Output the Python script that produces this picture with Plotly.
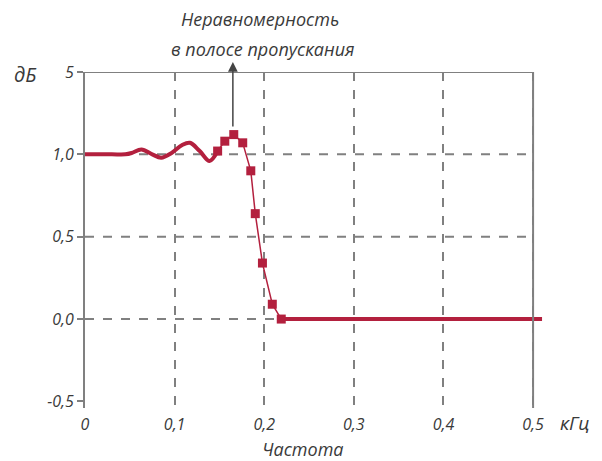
import plotly.graph_objects as go

# Data
ripple_x = [0.0, 0.03, 0.045, 0.052, 0.063, 0.075, 0.085, 0.097, 0.108, 0.117, 0.128, 0.139, 0.148]
ripple_y = [1.0, 1.0, 1.0, 1.008, 1.03, 1.0, 0.98, 1.01, 1.055, 1.07, 1.02, 0.96, 1.02]
edge_x = [0.148, 0.156, 0.166, 0.176, 0.185, 0.190, 0.198, 0.209, 0.219]
edge_y = [1.02, 1.08, 1.12, 1.07, 0.90, 0.64, 0.34, 0.09, 0.0]
stop_x = [0.219, 0.51]
stop_y = [0.0, 0.0]

x_ticks = [0, 0.1, 0.2, 0.3, 0.4, 0.5]
x_ticktext = ["0", "0,1", "0,2", "0,3", "0,4", "0,5"]
y_ticks = [-0.5, 0.0, 0.5, 1.0, 1.5]
y_ticktext = ["-0,5", "0,0", "0,5", "1,0", "5"]
grid_y = [0.0, 0.5, 1.0]

RED = "#B3203E"
GREY = "#808080"
TXT = "#3a3a3a"
FONT = "Open Sans"

fig = go.Figure()
fig.add_trace(go.Scatter(x=ripple_x, y=ripple_y, mode="lines",
                         line=dict(color=RED, width=4, shape="spline", smoothing=1.0),
                         hoverinfo="skip"))
fig.add_trace(go.Scatter(x=stop_x, y=stop_y, mode="lines",
                         line=dict(color=RED, width=4), hoverinfo="skip"))
fig.add_trace(go.Scatter(x=edge_x, y=edge_y, mode="lines+markers",
                         line=dict(color=RED, width=1.5),
                         marker=dict(symbol="square", size=9, color=RED),
                         hoverinfo="skip"))

shapes = []
for gy in grid_y:
    shapes.append(dict(type="line", xref="x", yref="y", x0=0, x1=0.5, y0=gy, y1=gy,
                       line=dict(color=GREY, width=2, dash="dash"), layer="below"))
# frame: top and right border
shapes.append(dict(type="line", xref="x", yref="y", x0=0, x1=0.5, y0=1.5, y1=1.5,
                   line=dict(color=GREY, width=2)))
shapes.append(dict(type="line", xref="x", yref="paper", x0=0.5, x1=0.5, y0=0, y1=1,
                   line=dict(color=GREY, width=2)))

tick_font = dict(family=FONT, size=16, color=TXT, style="italic")

fig.update_layout(
    width=602, height=461,
    margin=dict(l=85, r=51, t=72, b=53),
    paper_bgcolor="white", plot_bgcolor="white",
    showlegend=False,
    shapes=shapes,
    xaxis=dict(range=[0, 0.52], tickvals=x_ticks, ticktext=x_ticktext,
               showgrid=True, gridcolor=GREY, gridwidth=2, griddash="dash",
               zeroline=False, showline=False, ticks="", tickfont=tick_font,
               ticklabelstandoff=5, fixedrange=True),
    yaxis=dict(range=[-0.54, 1.5], tickvals=y_ticks, ticktext=y_ticktext,
               showgrid=False, zeroline=False, showline=True, linecolor=GREY, linewidth=2,
               ticks="outside", ticklen=6, tickcolor=GREY, tickwidth=2,
               tickfont=tick_font, fixedrange=True),
    annotations=[
        dict(text="Неравномерность", xref="paper", yref="paper", x=(260 - 85) / 466,
             y=(408 - 19) / 336, showarrow=False, xanchor="center", yanchor="middle",
             font=dict(family=FONT, size=18, color=TXT, style="italic")),
        dict(text="в полосе пропускания", xref="paper", yref="paper", x=(263 - 85) / 466,
             y=(408 - 49) / 336, showarrow=False, xanchor="center", yanchor="middle",
             font=dict(family=FONT, size=18, color=TXT, style="italic")),
        dict(text="", xref="x", yref="y", x=0.165, y=1.56, axref="x", ayref="y",
             ax=0.165, ay=1.16, showarrow=True, arrowhead=2, arrowsize=1.3,
             arrowwidth=1.5, arrowcolor="#444"),
        dict(text="кГц", xref="paper", yref="paper", x=(574 - 85) / 466,
             y=(408 - 423) / 336, showarrow=False, xanchor="center", yanchor="middle",
             font=dict(family=FONT, size=19, color=TXT, style="italic")),
        dict(text="Частота", xref="paper", yref="paper", x=(303 - 85) / 466,
             y=(408 - 449) / 336, showarrow=False, xanchor="center", yanchor="middle",
             font=dict(family=FONT, size=18, color=TXT, style="italic")),
        dict(text="дБ", xref="paper", yref="paper", x=(25 - 85) / 466,
             y=(408 - 74) / 336, showarrow=False, xanchor="center", yanchor="middle",
             font=dict(family=FONT, size=20, color=TXT, style="italic")),
    ],
)

fig.write_html("out.html", config={"displayModeBar": False},
               post_script="document.body.style.margin='0';document.body.style.overflow='hidden';")
